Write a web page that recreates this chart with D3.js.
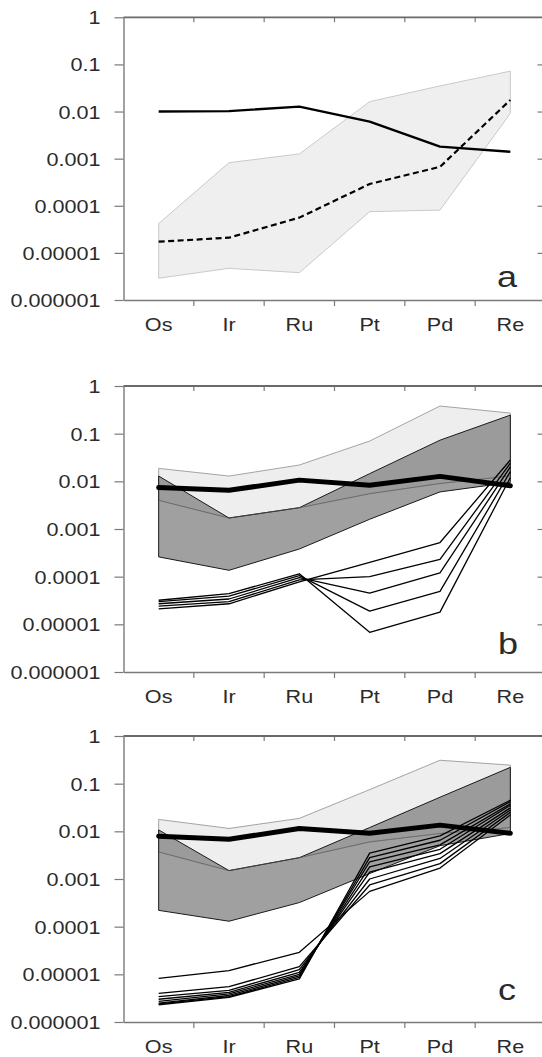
<!DOCTYPE html>
<html>
<head>
<meta charset="utf-8">
<script src="https://cdn.jsdelivr.net/npm/d3@7"></script>
<style>
  body { margin: 0; background: #fff; }
  svg { display: block; }
  text { font-family: "Liberation Sans", Arial, sans-serif; fill: #2b2b2b; }
</style>
</head>
<body>
<svg id="chart" width="542" height="1057"></svg>
<script>
// Element order along the x axis and log-scale tick labels
const cats = ["Os", "Ir", "Ru", "Pt", "Pd", "Re"];
const yTickValues = [1, 0.1, 0.01, 0.001, 0.0001, 0.00001, 0.000001];
const yTickLabels = ["1", "0.1", "0.01", "0.001", "0.0001", "0.00001", "0.000001"];

// Panel a: solid pattern, dashed pattern and the shaded range
const aSolid     = [0.010, 0.0102, 0.0127, 0.0061, 0.0018, 0.0014];
const aDashed    = [1.73e-5, 2.1e-5, 5.6e-5, 2.9e-4, 6.7e-4, 0.0176];
const aRangeHigh = [4.2e-5, 8.2e-4, 1.26e-3, 0.0162, 0.035, 0.072];
const aRangeLow  = [2.9e-6, 4.7e-6, 3.8e-6, 7.5e-5, 8.1e-5, 0.0091];

// Panel b: light and dark ranges, heavy reference pattern, modelled patterns
const bLightHigh = [0.0187, 0.0129, 0.022, 0.07, 0.38, 0.27];
const bLightLow  = [0.0040, 0.0017, 0.0028, 0.0055, 0.009, 0.013];
const bDarkHigh  = [0.0129, 0.0017, 0.0028, 0.0145, 0.073, 0.245];
const bDarkLow   = [2.6e-4, 1.36e-4, 3.8e-4, 1.6e-3, 6.0e-3, 0.0095];
const bHeavy     = [0.0074, 0.0065, 0.0106, 0.0083, 0.0127, 0.0081];
const bModel1 = [2.1e-5, 2.7e-5, 7.8e-5, 2.0e-4, 5.2e-4, 0.028];
const bModel2 = [2.4e-5, 3.0e-5, 8.6e-5, 1.0e-4, 2.3e-4, 0.024];
const bModel3 = [2.7e-5, 3.4e-5, 9.5e-5, 4.5e-5, 1.2e-4, 0.020];
const bModel4 = [3.0e-5, 3.9e-5, 1.05e-4, 1.9e-5, 4.9e-5, 0.016];
const bModel5 = [3.2e-5, 4.4e-5, 1.15e-4, 6.8e-6, 1.8e-5, 0.012];

// Panel c: same ranges and reference, second set of modelled patterns
const cLightHigh = [0.0178, 0.0115, 0.0187, 0.075, 0.31, 0.245];
const cLightLow  = [0.0037, 0.0015, 0.0028, 0.006, 0.009, 0.012];
const cDarkHigh  = [0.0107, 0.0015, 0.0028, 0.012, 0.052, 0.22];
const cDarkLow   = [2.2e-4, 1.3e-4, 3.2e-4, 1.3e-3, 5.0e-3, 0.009];
const cHeavy     = [0.0079, 0.0068, 0.0115, 0.0091, 0.0135, 0.0091];
const cModel1 = [8.2e-6, 1.2e-5, 2.9e-5, 5.5e-4, 1.7e-3, 0.022];
const cModel2 = [4.0e-6, 5.5e-6, 1.45e-5, 7.5e-4, 2.1e-3, 0.025];
const cModel3 = [3.4e-6, 4.6e-6, 1.25e-5, 1.0e-3, 2.7e-3, 0.028];
const cModel4 = [3.0e-6, 4.2e-6, 1.1e-5, 1.4e-3, 3.4e-3, 0.031];
const cModel5 = [2.7e-6, 3.9e-6, 1.0e-5, 1.8e-3, 4.2e-3, 0.035];
const cModel6 = [2.5e-6, 3.6e-6, 9.3e-6, 2.3e-3, 5.2e-3, 0.038];
const cModel7 = [2.4e-6, 3.4e-6, 8.6e-6, 2.8e-3, 6.5e-3, 0.042];
const cModel8 = [2.3e-6, 3.3e-6, 8.0e-6, 3.5e-3, 8.0e-3, 0.045];

const svg = d3.select("#chart");
const X0 = 123.5, X1 = 545.5;
const AXIS = "#7a7a7a";
const STRETCH = "scale(1.2,1)";

function drawPanel(cfg) {
  const g = svg.append("g");
  const x = d3.scaleBand().domain(cats).range([X0, X1]);
  const y = d3.scaleLog().domain([1e-6, 1]).range([cfg.bottom, cfg.top]);
  const cx = c => x(c) + x.bandwidth() / 2;

  const line = d3.line().x((d, i) => cx(cats[i])).y(d => y(d));
  const band = (hi, lo) => d3.area()
    .x(d => cx(d.c)).y0(d => y(d.lo)).y1(d => y(d.hi))(
      cats.map((c, i) => ({ c, hi: hi[i], lo: lo[i] })));

  // shaded ranges
  (cfg.bands || []).forEach(b => {
    g.append("path").attr("d", band(b.high, b.low))
      .attr("fill", b.fill).attr("fill-opacity", b.opacity || 1)
      .attr("stroke", b.stroke).attr("stroke-width", b.strokeWidth)
      .attr("stroke-linejoin", "round");
  });
  (cfg.edges || []).forEach(e => {
    g.append("path").attr("d", line(e.values)).attr("fill", "none")
      .attr("stroke", e.stroke).attr("stroke-width", e.width).attr("stroke-opacity", e.opacity || 1);
  });
  // patterns
  (cfg.lines || []).forEach(l => {
    g.append("path").attr("d", line(l.values)).attr("fill", "none")
      .attr("stroke", "#000").attr("stroke-width", l.width)
      .attr("stroke-dasharray", l.dash || null)
      .attr("stroke-linejoin", "round").attr("stroke-linecap", l.cap || "butt");
  });

  // left axis
  const left = g.append("g").attr("transform", `translate(${X0},0)`)
    .call(d3.axisLeft(y).tickValues(yTickValues)
      .tickFormat((d, i) => yTickLabels[i]).tickSize(9).tickSizeOuter(0).tickPadding(14));
  left.select(".domain").attr("stroke", AXIS).attr("stroke-width", 1.4);
  left.selectAll(".tick line").attr("stroke", AXIS).attr("stroke-width", 1.2);
  left.selectAll(".tick text")
    .attr("x", 0).attr("dy", "0.36em")
    .attr("transform", `translate(-23,0) ${STRETCH}`)
    .style("font-size", "18px").attr("fill", "#2b2b2b");

  // bottom axis with category labels
  const bottom = g.append("g").attr("transform", `translate(0,${cfg.bottom})`)
    .call(d3.axisBottom(x).tickSize(0).tickSizeOuter(0).tickPadding(18));
  bottom.select(".domain").attr("stroke", AXIS).attr("stroke-width", 1.4);
  bottom.selectAll(".tick text").attr("transform", STRETCH)
    .style("font-size", "18px").attr("fill", "#2b2b2b");

  // band boundary ticks on bottom (outward) and top (inward)
  const bounds = cats.slice(1).map(c => x(c));
  g.selectAll(null).data(bounds).join("line")
    .attr("x1", d => d).attr("x2", d => d)
    .attr("y1", cfg.bottom).attr("y2", cfg.bottom + 6)
    .attr("stroke", AXIS).attr("stroke-width", 1.2);
  g.selectAll(null).data(bounds).join("line")
    .attr("x1", d => d).attr("x2", d => d)
    .attr("y1", cfg.top).attr("y2", cfg.top + 5)
    .attr("stroke", AXIS).attr("stroke-width", 1.2);

  // top frame line
  g.append("line").attr("x1", X0).attr("x2", X1)
    .attr("y1", cfg.top).attr("y2", cfg.top)
    .attr("stroke", "#6a6a6a").attr("stroke-width", 1.8);

  // right-hand inward ticks
  if (cfg.rightTicks) {
    const right = g.append("g").attr("transform", `translate(${X1},0)`)
      .call(d3.axisRight(y).tickValues(yTickValues.slice(1, -1)).tickSize(-8).tickFormat(""));
    right.select(".domain").remove();
    right.selectAll(".tick line").attr("stroke", AXIS).attr("stroke-width", 1.2);
  }

  // panel letter
  g.append("text").attr("transform", `translate(${cfg.letterX},${cfg.letterY}) ${STRETCH}`)
    .attr("text-anchor", "middle").style("font-size", "30px").attr("fill", "#222")
    .text(cfg.letter);
}

drawPanel({
  top: 17.3, bottom: 300, letter: "a", letterX: 507, letterY: 287, rightTicks: true,
  bands: [{ high: aRangeHigh, low: aRangeLow, fill: "#efefef", stroke: "#c4c4c4", strokeWidth: 0.9 }],
  lines: [
    { values: aSolid, width: 2.4 },
    { values: aDashed, width: 2.2, dash: "6,3.5" }
  ]
});

drawPanel({
  top: 386, bottom: 672, letter: "b", letterX: 508, letterY: 654, rightTicks: true,
  bands: [
    { high: bLightHigh, low: bLightLow, fill: "#eeeeee", stroke: "#9a9a9a", strokeWidth: 0.9 },
    { high: bDarkHigh, low: bDarkLow, fill: "#7b7b7b", opacity: 0.72, stroke: "#1a1a1a", strokeWidth: 1 }
  ],
  edges: [{ values: bLightLow, stroke: "#555", width: 0.9, opacity: 0.6 }],
  lines: [
    { values: bModel1, width: 1.3 }, { values: bModel2, width: 1.3 },
    { values: bModel3, width: 1.3 }, { values: bModel4, width: 1.3 },
    { values: bModel5, width: 1.3 },
    { values: bHeavy, width: 5, cap: "round" }
  ]
});

drawPanel({
  top: 736, bottom: 1022, letter: "c", letterX: 507, letterY: 1000, rightTicks: false,
  bands: [
    { high: cLightHigh, low: cLightLow, fill: "#eeeeee", stroke: "#9a9a9a", strokeWidth: 0.9 },
    { high: cDarkHigh, low: cDarkLow, fill: "#7b7b7b", opacity: 0.72, stroke: "#1a1a1a", strokeWidth: 1 }
  ],
  edges: [{ values: cLightLow, stroke: "#555", width: 0.9, opacity: 0.6 }],
  lines: [
    { values: cModel1, width: 1.3 }, { values: cModel2, width: 1.3 },
    { values: cModel3, width: 1.3 }, { values: cModel4, width: 1.3 },
    { values: cModel5, width: 1.3 }, { values: cModel6, width: 1.3 },
    { values: cModel7, width: 1.3 }, { values: cModel8, width: 1.3 },
    { values: cHeavy, width: 5, cap: "round" }
  ]
});
</script>
</body>
</html>
